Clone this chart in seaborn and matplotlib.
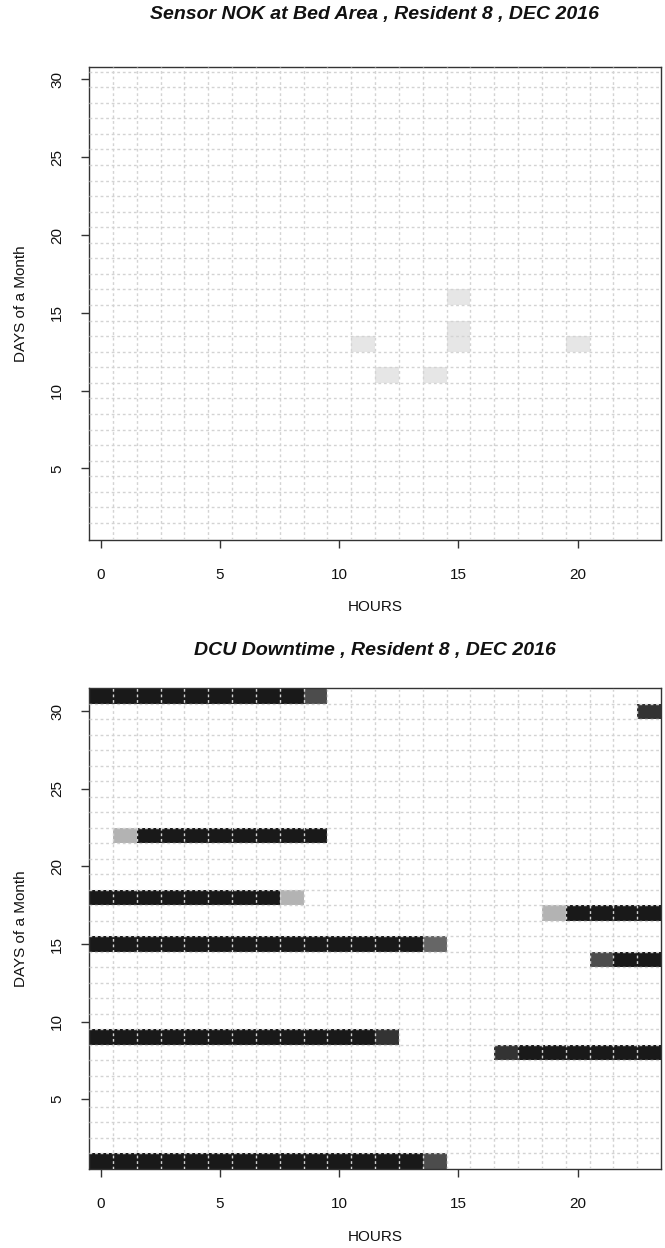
import numpy as np
import pandas as pd
import matplotlib
matplotlib.use("Agg")
import matplotlib.pyplot as plt
import seaborn as sns
from matplotlib.colors import LinearSegmentedColormap
from matplotlib.ticker import FixedLocator

plt.rcParams["font.family"] = ["Liberation Sans", "DejaVu Sans"]

# ---------------- data ----------------
hours = list(range(24))
days = list(range(1, 32))
x_tick_labels = [0, 5, 10, 15, 20]
y_tick_labels = [5, 10, 15, 20, 25, 30]

# Sensor NOK at Bed Area (grey level of cell, 0 = none)
sensor_days = [11, 11, 13, 13, 13, 14, 16]
sensor_hours = [12, 14, 11, 15, 20, 15, 15]
sensor_level = [0.1, 0.1, 0.1, 0.1, 0.1, 0.1, 0.1]

# DCU Downtime: grey level per hour (0..23) for the days with downtime
dcu_days = [31, 30, 22, 18, 17, 15, 14, 9, 8, 1]
dcu_day31 = [.9, .9, .9, .9, .9, .9, .9, .9, .9, .7, 0, 0, 0, 0, 0, 0, 0, 0, 0, 0, 0, 0, 0, 0]
dcu_day30 = [0, 0, 0, 0, 0, 0, 0, 0, 0, 0, 0, 0, 0, 0, 0, 0, 0, 0, 0, 0, 0, 0, 0, .8]
dcu_day22 = [0, .3, .9, .9, .9, .9, .9, .9, .9, .9, 0, 0, 0, 0, 0, 0, 0, 0, 0, 0, 0, 0, 0, 0]
dcu_day18 = [.9, .9, .9, .9, .9, .9, .9, .9, .3, 0, 0, 0, 0, 0, 0, 0, 0, 0, 0, 0, 0, 0, 0, 0]
dcu_day17 = [0, 0, 0, 0, 0, 0, 0, 0, 0, 0, 0, 0, 0, 0, 0, 0, 0, 0, 0, .3, .9, .9, .9, .9]
dcu_day15 = [.9, .9, .9, .9, .9, .9, .9, .9, .9, .9, .9, .9, .9, .9, .6, 0, 0, 0, 0, 0, 0, 0, 0, 0]
dcu_day14 = [0, 0, 0, 0, 0, 0, 0, 0, 0, 0, 0, 0, 0, 0, 0, 0, 0, 0, 0, 0, 0, .7, .9, .9]
dcu_day9 = [.9, .9, .9, .9, .9, .9, .9, .9, .9, .9, .9, .9, .8, 0, 0, 0, 0, 0, 0, 0, 0, 0, 0, 0]
dcu_day8 = [0, 0, 0, 0, 0, 0, 0, 0, 0, 0, 0, 0, 0, 0, 0, 0, 0, .8, .9, .9, .9, .9, .9, .9]
dcu_day1 = [.9, .9, .9, .9, .9, .9, .9, .9, .9, .9, .9, .9, .9, .9, .7, 0, 0, 0, 0, 0, 0, 0, 0, 0]
dcu_rows = [dcu_day31, dcu_day30, dcu_day22, dcu_day18, dcu_day17,
            dcu_day15, dcu_day14, dcu_day9, dcu_day8, dcu_day1]

# ---------------- tables ----------------
sensor = pd.DataFrame(0.0, index=days, columns=hours)
for d, h, v in zip(sensor_days, sensor_hours, sensor_level):
    sensor.loc[d, h] = v

dcu = pd.DataFrame(0.0, index=days, columns=hours)
for d, row in zip(dcu_days, dcu_rows):
    dcu.loc[d] = row

cmap = LinearSegmentedColormap.from_list("grey", ["#ffffff", "#000000"])

W, H = 665, 1248
fig = plt.figure(figsize=(W / 100, H / 100), dpi=100)
ax1 = fig.add_axes([89 / W, 1 - 540 / H, 572 / W, 473 / H])
ax2 = fig.add_axes([89 / W, 1 - 1169 / H, 572 / W, 481 / H])


def draw(ax, df, ylim, title, title_y, xlab_y):
    sns.heatmap(df, ax=ax, cmap=cmap, vmin=0, vmax=1, cbar=False,
                mask=(df == 0), linewidths=0)
    ax.set_facecolor("white")
    ax.set_xlim(0, 24)
    ax.set_ylim(*ylim)
    ax.set_xlabel("")
    ax.set_ylabel("")
    ax.set_xticks([h + 0.5 for h in x_tick_labels])
    ax.set_xticklabels([str(h) for h in x_tick_labels], rotation=0)
    ax.set_yticks([d - 0.5 for d in y_tick_labels])
    ax.set_yticklabels([str(d) for d in y_tick_labels], rotation=90, va="center")
    ax.xaxis.set_minor_locator(FixedLocator(list(range(1, 24))))
    ax.yaxis.set_minor_locator(FixedLocator(list(range(1, 31))))
    ax.tick_params(which="minor", length=0)
    ax.tick_params(which="major", length=6, width=1, color="#333333",
                   labelsize=11, labelcolor="#111111")
    ax.tick_params(axis="x", pad=14)
    ax.tick_params(axis="y", pad=12)
    ax.grid(which="minor", color="#d3d3d3", linestyle=(0, (2, 2)), linewidth=1)
    ax.grid(which="major", visible=False)
    ax.set_axisbelow(False)
    for s in ax.spines.values():
        s.set_visible(True)
        s.set_color("#333333")
        s.set_linewidth(1)
    pos = ax.get_position()
    cx = pos.x0 + pos.width / 2
    fig.text(cx, 1 - title_y / H, title, ha="center", va="center",
             fontsize=14, fontweight="bold", fontstyle="italic", color="#111111")
    fig.text(cx, 1 - xlab_y / H, "HOURS", ha="center", va="center",
             fontsize=11, color="#111111")
    fig.text(21 / W, pos.y0 + pos.height / 2, "DAYS of a Month", ha="center",
             va="center", rotation=90, fontsize=11, color="#111111")


draw(ax1, sensor, (-0.1, 30.3), "Sensor NOK at Bed Area , Resident 8 , DEC 2016", 15, 607)
draw(ax2, dcu, (0, 31), "DCU Downtime , Resident 8 , DEC 2016", 650, 1237)

fig.savefig("out.png", dpi=100)
